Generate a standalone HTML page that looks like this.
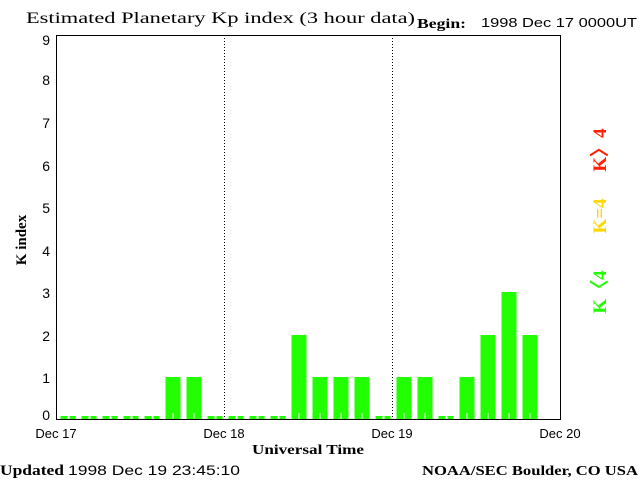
<html><head><style>body{margin:0;background:#fff;width:640px;height:480px;overflow:hidden}</style></head><body>
<svg width="640" height="480" xmlns="http://www.w3.org/2000/svg">
<g font-family="Liberation Serif, serif" fill="#000">
<text x="26" y="23" font-size="16" textLength="389" lengthAdjust="spacingAndGlyphs">Estimated Planetary Kp index (3 hour data)</text>
<text x="417" y="28" font-size="14" font-weight="bold" textLength="49" lengthAdjust="spacingAndGlyphs">Begin:</text>
<text x="481" y="27" font-size="13" font-family="Liberation Sans, sans-serif" textLength="156" lengthAdjust="spacingAndGlyphs">1998 Dec 17 0000UT</text>
<text x="0" y="475" font-size="15" font-weight="bold" textLength="64" lengthAdjust="spacingAndGlyphs">Updated</text>
<text x="68" y="475" font-size="14" font-family="Liberation Sans, sans-serif" textLength="172" lengthAdjust="spacingAndGlyphs">1998 Dec 19 23:45:10</text>
<text x="422" y="475" font-size="14" font-weight="bold" textLength="216" lengthAdjust="spacingAndGlyphs">NOAA/SEC Boulder, CO USA</text>
<text x="252" y="454" font-size="14" font-weight="bold" textLength="112" lengthAdjust="spacingAndGlyphs">Universal Time</text>
<text transform="translate(26,240) rotate(-90)" font-size="15" font-weight="bold" text-anchor="middle">K index</text>
<text transform="translate(606,150) rotate(-90)" font-size="19" font-weight="bold" text-anchor="middle" fill="#ff2000">K〉4</text>
<text transform="translate(606,216) rotate(-90)" font-size="19" font-weight="bold" text-anchor="middle" fill="#ffd700">K=4</text>
<text transform="translate(606,292) rotate(-90)" font-size="19" font-weight="bold" text-anchor="middle" fill="#22ff00">K〈4</text>
</g>
<g font-family="Liberation Sans, sans-serif" font-size="14" text-anchor="end">
<text x="50" y="420">0</text><text x="50" y="383">1</text><text x="50" y="341">2</text><text x="50" y="298">3</text><text x="50" y="256">4</text><text x="50" y="213">5</text><text x="50" y="171">6</text><text x="50" y="128">7</text><text x="50" y="85">8</text><text x="50" y="45">9</text>
</g>
<g font-family="Liberation Sans, sans-serif" font-size="13" text-anchor="middle">
<text x="56" y="438">Dec 17</text><text x="224" y="438">Dec 18</text><text x="392" y="438">Dec 19</text><text x="560" y="438">Dec 20</text>
</g>
<g fill="#22ff00">
<rect x="60.5" y="416" width="15" height="3"/>
<rect x="81.5" y="416" width="15" height="3"/>
<rect x="102.5" y="416" width="15" height="3"/>
<rect x="123.5" y="416" width="15" height="3"/>
<rect x="144.5" y="416" width="15" height="3"/>
<rect x="165.5" y="377" width="15" height="42"/>
<rect x="186.5" y="377" width="15" height="42"/>
<rect x="207.5" y="416" width="15" height="3"/>
<rect x="228.5" y="416" width="15" height="3"/>
<rect x="249.5" y="416" width="15" height="3"/>
<rect x="270.5" y="416" width="15" height="3"/>
<rect x="291.5" y="335" width="15" height="84"/>
<rect x="312.5" y="377" width="15" height="42"/>
<rect x="333.5" y="377" width="15" height="42"/>
<rect x="354.5" y="377" width="15" height="42"/>
<rect x="375.5" y="416" width="15" height="3"/>
<rect x="396.5" y="377" width="15" height="42"/>
<rect x="417.5" y="377" width="15" height="42"/>
<rect x="438.5" y="416" width="15" height="3"/>
<rect x="459.5" y="377" width="15" height="42"/>
<rect x="480.5" y="335" width="15" height="84"/>
<rect x="501.5" y="292" width="15" height="127"/>
<rect x="522.5" y="335" width="15" height="84"/>
</g>
<g fill="#fff">
<rect x="172.5" y="413" width="1" height="6"/><rect x="193.5" y="413" width="1" height="6"/>
<rect x="298.5" y="413" width="1" height="6"/><rect x="319.5" y="413" width="1" height="6"/><rect x="340.5" y="413" width="1" height="6"/><rect x="361.5" y="413" width="1" height="6"/>
<rect x="403.5" y="413" width="1" height="6"/><rect x="424.5" y="413" width="1" height="6"/><rect x="466.5" y="413" width="1" height="6"/><rect x="487.5" y="413" width="1" height="6"/><rect x="508.5" y="413" width="1" height="6"/><rect x="529.5" y="413" width="1" height="6"/>
<rect x="67.5" y="416" width="2" height="3"/><rect x="88.5" y="416" width="2" height="3"/><rect x="109.5" y="416" width="2" height="3"/><rect x="130.5" y="416" width="2" height="3"/><rect x="151.5" y="416" width="2" height="3"/><rect x="214.5" y="416" width="2" height="3"/><rect x="235.5" y="416" width="2" height="3"/><rect x="256.5" y="416" width="2" height="3"/><rect x="277.5" y="416" width="2" height="3"/><rect x="382.5" y="416" width="2" height="3"/><rect x="445.5" y="416" width="2" height="3"/>
</g>
<line x1="224.5" y1="35" x2="224.5" y2="419" stroke="#000" stroke-dasharray="1,2"/>
<line x1="392.5" y1="35" x2="392.5" y2="419" stroke="#000" stroke-dasharray="1,2"/>
<rect x="56.5" y="35.5" width="504" height="384" fill="none" stroke="#000"/>
</svg></body></html>
